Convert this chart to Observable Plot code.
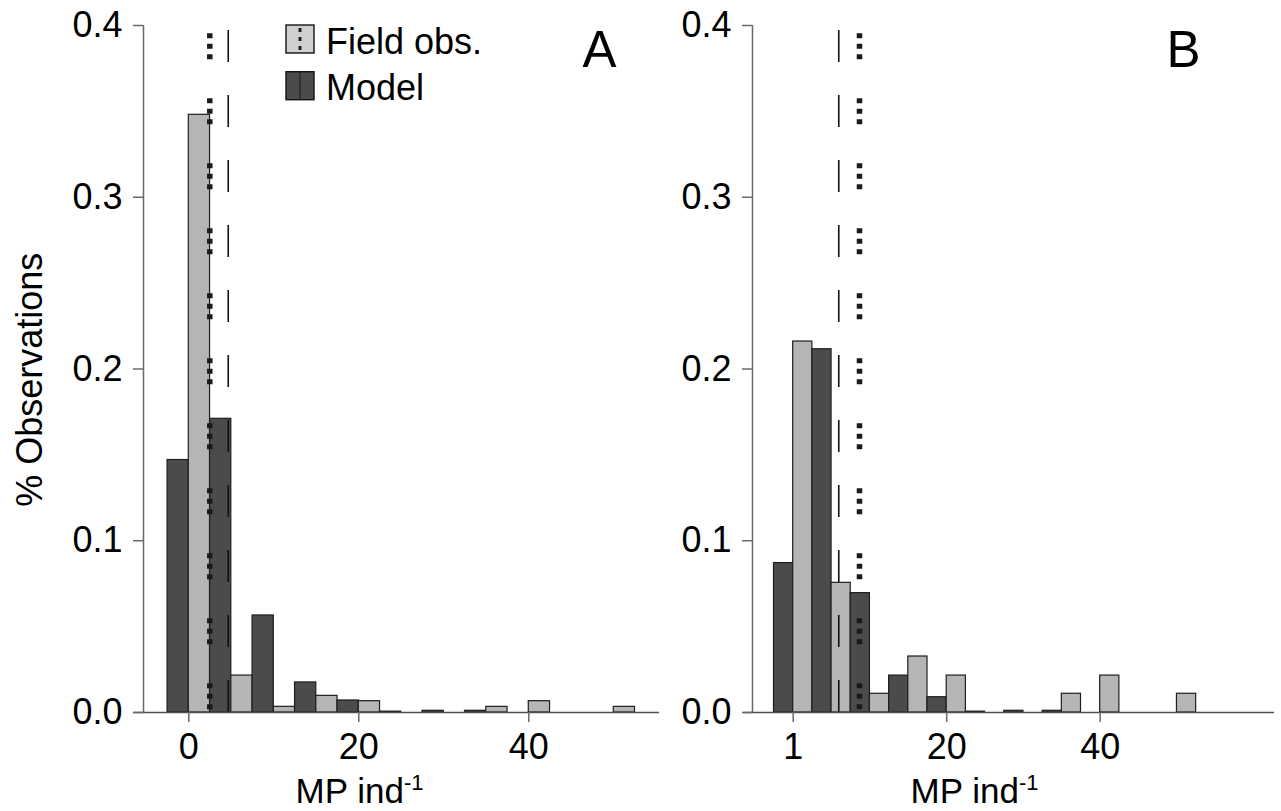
<!DOCTYPE html>
<html>
<head>
<meta charset="utf-8">
<script src="https://cdn.jsdelivr.net/npm/d3@7"></script>
<script src="https://cdn.jsdelivr.net/npm/@observablehq/plot@0.6"></script>
<style>
  body { margin: 0; background: #fff; }
  #wrap { position: relative; width: 1281px; height: 811px; overflow: hidden; background: #fff;
          font-family: "Liberation Sans", Arial, Helvetica, sans-serif; }
  #wrap > svg, #wrap > div { position: absolute; top: 0; }
</style>
</head>
<body>
<div id="wrap"></div>
<script>
// ---- data ----
const bins = [0, 5, 10, 15, 20, 25, 30, 35, 40, 45, 50];
const modelA = [0.147, 0.171, 0.0565, 0.0175, 0.007, 0.0005, 0.001, 0.001, 0, 0, 0];
const fieldA = [0.348, 0.0215, 0.0033, 0.0097, 0.0066, 0, 0, 0.0033, 0.0066, 0, 0.0033];
const modelB = [0.087, 0.2115, 0.0695, 0.0215, 0.0089, 0.0005, 0.001, 0.001, 0, 0, 0];
const fieldB = [0.216, 0.0755, 0.0109, 0.0326, 0.0215, 0, 0, 0.0109, 0.0215, 0, 0.0109];
const meanFieldA = 2.47, meanModelA = 4.64;
const meanFieldB = 8.64, meanModelB = 5.94;
const yTicks = [0, 0.1, 0.2, 0.3, 0.4];
const xTicks = [0, 20, 40];
const xTickLabelsA = ["0", "20", "40"];
const xTickLabelsB = ["1", "20", "40"];
const seriesNames = ["Field obs.", "Model"];
const yLabel = "% Observations";
const xLabelBase = "MP ind", xLabelSup = "-1";
const panelLetters = ["A", "B"];

// ---- styles ----
const FONT = '"Liberation Sans", Arial, Helvetica, sans-serif';
const LIGHT = "#b5b5b5", DARK = "#4b4b4b";
const AXIS = "#6a6a6a";

function panel(o) {
  const rows = [];
  bins.forEach((b, i) => {
    if (o.model[i] > 0) rows.push({x1: b - 2.5, x2: b, y: o.model[i], s: seriesNames[1]});
    if (o.field[i] > 0) rows.push({x1: b, x2: b + 2.5, y: o.field[i], s: seriesNames[0]});
  });
  const marks = [
    Plot.rectY(rows, {x1: "x1", x2: "x2", y: "y", fill: "s", stroke: "#1e1e1e", strokeWidth: 1.2}),
    Plot.ruleX([o.meanModel], {y1: 0, y2: 0.4, stroke: "#111", strokeWidth: 1.6, strokeDasharray: "32,33"}),
    Plot.ruleX([o.meanField], {y1: 0, y2: 0.4, stroke: "#1a1a1a", strokeWidth: 5.5,
      strokeDasharray: "5,5.5,5,5.5,5,39", strokeDashoffset: 62.3}),
    Plot.ruleX([o.xDomain[0]], {y1: 0, y2: 0.4, stroke: AXIS, strokeWidth: 1.5}),
    Plot.ruleY([0], {x1: o.xAxisStart, x2: o.xDomain[1], stroke: "#505050", strokeWidth: 1.7}),
    Plot.axisY({ticks: yTicks, tickFormat: d3.format(".1f"), tickSize: 10, tickPadding: 11,
      stroke: AXIS, strokeWidth: 1.5, fill: "#000", fontSize: 36, label: null}),
    Plot.axisX({ticks: xTicks, tickFormat: d => o.tickLabels[xTicks.indexOf(d)], tickSize: 10, tickPadding: 11,
      stroke: AXIS, strokeWidth: 1.5, fill: "#000", fontSize: 36, label: null}),
    Plot.text([xLabelBase + xLabelSup], {text: d => d, frameAnchor: "bottom-left", dx: o.labelDx, dy: 66,
      lineAnchor: "top", textAnchor: "middle", fontSize: 35, fill: "#000"}),
    Plot.text([o.letter], {text: d => d, frameAnchor: "top-left", dx: o.letterDx, dy: 5,
      lineAnchor: "top", textAnchor: "start", fontSize: 51, fill: "#000"})
  ];
  if (o.yLabel) {
    marks.push(Plot.text([o.yLabel], {text: d => d, frameAnchor: "left", rotate: -90, dx: -113, dy: 10.7,
      textAnchor: "middle", lineAnchor: "middle", fontSize: 36, fill: "#000"}));
  }
  const svg = Plot.plot({
    width: o.width, height: 811,
    marginTop: 25, marginBottom: 99, marginLeft: o.marginLeft, marginRight: o.marginRight,
    x: {type: "linear", domain: o.xDomain},
    y: {type: "linear", domain: [0, 0.4]},
    color: {domain: seriesNames, range: [LIGHT, DARK]},
    style: {fontFamily: FONT, fontSize: "36px", background: "transparent", overflow: "visible", color: "#000"},
    marks
  });
  // superscript for the x label
  d3.select(svg).selectAll("text").each(function () {
    if (this.textContent === xLabelBase + xLabelSup && this.childElementCount === 0) {
      this.textContent = xLabelBase;
      d3.select(this).append("tspan").attr("dy", -13).attr("font-size", "22px").text(xLabelSup);
    }
  });
  return svg;
}

const wrap = document.getElementById("wrap");

const svgA = panel({
  model: modelA, field: fieldA, meanField: meanFieldA, meanModel: meanModelA,
  tickLabels: xTickLabelsA, letter: panelLetters[0], yLabel: yLabel,
  width: 680, marginLeft: 143, marginRight: 21,
  xDomain: [-5.33, 55.38], xAxisStart: -6.51, labelDx: 216, letterDx: 439
});
svgA.style.left = "0px";
wrap.appendChild(svgA);

const svgB = panel({
  model: modelB, field: fieldB, meanField: meanFieldB, meanModel: meanModelB,
  tickLabels: xTickLabelsB, letter: panelLetters[1], yLabel: null,
  width: 601, marginLeft: 72, marginRight: 7,
  xDomain: [-5.30, 62.71], xAxisStart: -6.44, labelDx: 222, letterDx: 414
});
svgB.style.left = "680px";
wrap.appendChild(svgB);

// ---- legend (panel A, top) ----
const legend = d3.create("svg")
  .attr("width", 230).attr("height", 95)
  .style("position", "absolute").style("left", "280px").style("top", "18px")
  .style("font-family", FONT);
const lg = [
  {name: seriesNames[0], fill: "#cfcfcf", y: 7},
  {name: seriesNames[1], fill: DARK, y: 53.7}
];
lg.forEach((d, i) => {
  legend.append("rect").attr("x", 6).attr("y", d.y).attr("width", 28).attr("height", 28)
    .attr("fill", d.fill).attr("stroke", "#111").attr("stroke-width", 1.4);
  if (i === 0) {
    legend.append("line").attr("x1", 20).attr("x2", 20).attr("y1", d.y + 3).attr("y2", d.y + 26)
      .attr("stroke", "#222").attr("stroke-width", 3).attr("stroke-dasharray", "4,5");
  } else {
    legend.append("line").attr("x1", 20).attr("x2", 20).attr("y1", d.y).attr("y2", d.y + 28)
      .attr("stroke", "#222").attr("stroke-width", 1.2);
  }
  legend.append("text").attr("x", 46).attr("y", d.y + 28.5).attr("font-size", 36)
    .attr("fill", "#000").text(d.name);
});
wrap.appendChild(legend.node());
</script>
</body>
</html>
